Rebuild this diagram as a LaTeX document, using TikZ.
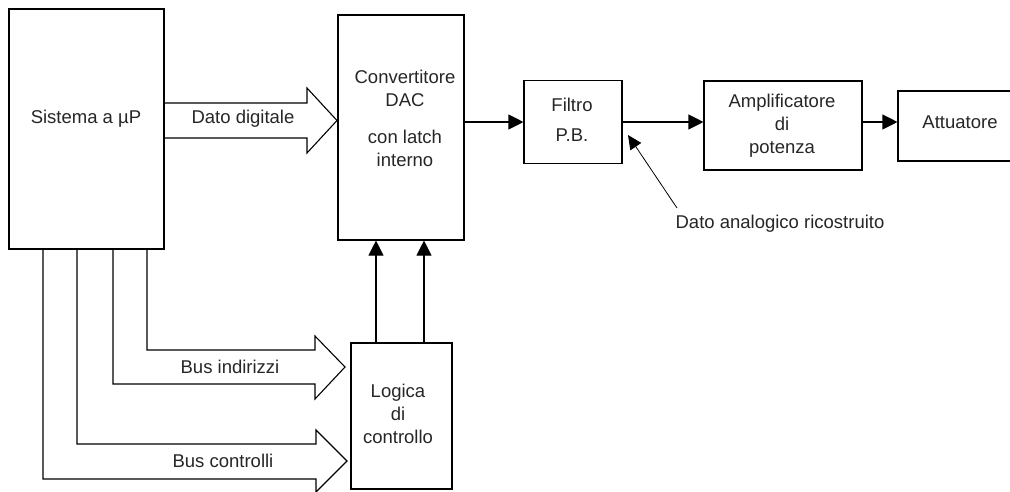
\documentclass[tikz,border=0pt]{standalone}
\usepackage{fontspec}
\setmainfont{Liberation Sans}
\usetikzlibrary{arrows.meta,calc}
\begin{document}
\begin{tikzpicture}[x=1pt,y=-1pt,line width=1.1pt,
  box/.style={draw,line width=1.1pt,inner sep=0pt},
  txt/.style={font=\fontsize{18.5}{23}\selectfont,align=center,inner sep=0pt,text=black!85},
  arr/.style={-{Triangle[length=15pt,width=15pt]},line width=1.1pt},
  ptr/.style={-{Triangle[length=14pt,width=13pt]},line width=0.8pt},
  bus/.style={line width=1.1pt,line join=miter}]
\useasboundingbox (0,0) rectangle (1010,491);
\clip (0,0) rectangle (1010,491);
% boxes
\node[box,minimum width=155pt,minimum height=240pt] (sys) at (86.5,129) {};
\node[box,minimum width=126pt,minimum height=225pt] (dac) at (401,127.5) {};
\node[box,minimum width=98pt,minimum height=83pt] (filt) at (573,122) {};
\node[box,minimum width=158pt,minimum height=89pt] (amp) at (783,125.5) {};
\node[box,minimum width=124pt,minimum height=70pt] (att) at (960,126) {};
\node[box,minimum width=101pt,minimum height=146pt] (log) at (401.5,416) {};
% texts
\node[txt] (systxt) at (86,119) {Sistema a µP};
\node[txt] (dactxt) at (405,118) {Convertitore\\DAC\\[14pt]con latch\\interno};
\node[txt] (filttxt) at (572,120) {Filtro\\[7pt]P.B.};
\node[txt] (amptxt) at (782,126) {Amplificatore\\di\\potenza};
\node[txt] (atttxt) at (960,122) {Attuatore};
\node[txt] (logtxt) at (398,414) {Logica\\di\\controllo};
\node[txt] (dd) at (243,119) {Dato digitale};
\node[txt] (bi) at (230,367) {Bus indirizzi};
\node[txt] (bc) at (223,461) {Bus controlli};
\node[txt] (dar) at (780,224) {Dato analogico ricostruito};
% block arrows
\draw[bus] (sys.east |- 0,103) -- (307,103) -- (307,88) -- (337,120.5) -- (307,153) -- (307,138) -- (sys.east |- 0,138);
\draw[bus] (sys.south -| 147,0) -- (147,350) -- (315,350) -- (315,336) -- (345,367) -- (315,399) -- (315,384) -- (113,384) -- (sys.south -| 113,0);
\draw[bus] (sys.south -| 77,0) -- (77,444) -- (316,444) -- (316,430) -- (347,461) -- (316,492) -- (316,479) -- (43,479) -- (sys.south -| 43,0);
% signal arrows
\draw[arr] (dac.east |- filt.west) -- (filt.west);
\draw[arr] (filt.east) -- (amp.west |- filt.east);
\draw[arr] (amp.east |- filt.east) -- (att.west |- filt.east);
\draw[arr] (log.north -| 376,0) -- (dac.south -| 376,0);
\draw[arr] (log.north -| 424,0) -- (dac.south -| 424,0);
\coordinate (ptail) at (677,208);
\draw[ptr] (ptail) -- (628,135);
\end{tikzpicture}
\end{document}
